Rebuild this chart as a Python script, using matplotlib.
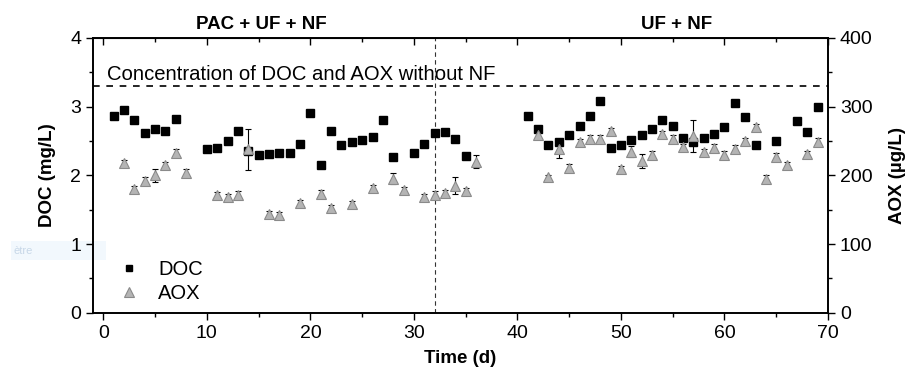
import matplotlib
matplotlib.use("Agg")
import matplotlib.pyplot as plt
from matplotlib.patches import Rectangle
from matplotlib.lines import Line2D
from matplotlib.ticker import MultipleLocator

plt.rcParams['font.family'] = ['Liberation Sans', 'DejaVu Sans']

# DOC (mg/L)
doc_days = [1, 2, 3, 4, 5, 6, 7, 10, 11, 12, 13, 14, 15, 16, 17, 18, 19, 20, 21, 22, 23,
            24, 25, 26, 27, 28, 30, 31, 32, 33, 34, 35,
            41, 42, 43, 44, 45, 46, 47, 48, 49, 50, 51, 52, 53, 54, 55, 56, 57, 58, 59,
            60, 61, 62, 63, 65, 67, 68, 69]
doc_vals = [2.87, 2.95, 2.81, 2.61, 2.68, 2.64, 2.82, 2.38, 2.40, 2.50, 2.65, 2.36, 2.30, 2.31,
            2.32, 2.33, 2.46, 2.91, 2.15, 2.65, 2.44, 2.48, 2.51, 2.56, 2.81, 2.26, 2.33, 2.46,
            2.62, 2.63, 2.53, 2.28,
            2.87, 2.67, 2.44, 2.48, 2.59, 2.72, 2.86, 3.08, 2.40, 2.44, 2.52, 2.58, 2.68, 2.81,
            2.72, 2.54, 2.48, 2.55, 2.60, 2.71, 3.05, 2.85, 2.44, 2.50, 2.79, 2.63, 3.00]

# AOX (ug/L)
aox_days = [2, 3, 4, 5, 6, 7, 8, 11, 12, 13, 14, 16, 17, 19, 21, 22, 24, 26, 28, 29, 31, 32,
            33, 34, 35, 36,
            42, 43, 44, 45, 46, 47, 48, 49, 50, 51, 52, 53, 54, 55, 56, 57, 58, 59, 60, 61,
            62, 63, 64, 65, 66, 68, 69]
aox_vals = [218, 180, 192, 200, 215, 233, 204, 171, 168, 172, 238, 143, 142, 159, 173, 152,
            158, 181, 195, 178, 168, 172, 174, 185, 177, 220,
            259, 197, 238, 211, 248, 253, 253, 264, 209, 234, 221, 230, 260, 253, 241, 257,
            234, 240, 230, 239, 250, 270, 195, 227, 215, 231, 249]
aox_err = [5, 5, 5, 9, 5, 5, 5, 5, 5, 5, 30, 5, 5, 5, 5, 5, 5, 5, 8, 5, 5, 5, 5, 12, 5, 9,
           6, 4, 13, 5, 5, 5, 5, 5, 4, 8, 10, 5, 5, 5, 5, 23, 5, 5, 5, 5, 5, 5, 5, 5, 5, 5, 5]

FS = 14

fig = plt.figure(figsize=(9.09, 3.72), dpi=100, facecolor='white')
ax = fig.add_axes([0.1023, 0.1594, 0.8086, 0.7386])
ax.patch.set_visible(False)
ax2 = ax.twinx()

# faint screenshot artifact (behind everything)
fig.patches.append(Rectangle((11 / 909, 1 - 260 / 372), 95 / 909, 19 / 372,
                             transform=fig.transFigure, facecolor='#f2f8fd',
                             edgecolor='none', zorder=-5))
fig.text(13 / 909, 1 - 251 / 372, 'ètre', fontsize=8, color='#c8d8e8', va='center',
         zorder=-4)

ax.set_xlim(-1, 70)
ax.set_ylim(0, 4)
ax2.set_ylim(0, 400)

ax.plot(doc_days, doc_vals, linestyle='none', marker='s', markersize=5.3,
        color='black', zorder=3)
ax2.errorbar(aox_days, aox_vals, yerr=aox_err, fmt='^', markersize=7,
             markerfacecolor='#b4b4b4', markeredgecolor='#8a8a8a', markeredgewidth=0.8,
             ecolor='black', elinewidth=0.8, capsize=2.5, capthick=0.8, zorder=4)

ax.axhline(3.3, color='black', linestyle=(0, (4, 4)), linewidth=1.2)
ax.axvline(32, color='#333333', linestyle=(0, (4, 3)), linewidth=0.8)
ax.text(0.4, 3.33, 'Concentration of DOC and AOX without NF', fontsize=14.6,
        va='bottom', ha='left')

# Ticks
ax.xaxis.set_major_locator(MultipleLocator(10))
ax.xaxis.set_minor_locator(MultipleLocator(5))
ax.yaxis.set_major_locator(MultipleLocator(1))
ax.yaxis.set_minor_locator(MultipleLocator(0.5))
ax2.yaxis.set_major_locator(MultipleLocator(100))
ax2.yaxis.set_minor_locator(MultipleLocator(50))
ax.tick_params(axis='x', which='both', direction='out', bottom=True, top=False, labelsize=FS)
ax.tick_params(axis='x', which='major', length=5, width=1)
ax.tick_params(axis='x', which='minor', length=3, width=1)
ax.tick_params(axis='y', which='major', direction='out', length=5, width=1, labelsize=FS)
ax.tick_params(axis='y', which='minor', direction='out', length=3, width=1)
ax2.tick_params(axis='y', which='major', direction='out', length=5, width=1, labelsize=FS)
ax2.tick_params(axis='y', which='minor', direction='out', length=3, width=1)
secx = ax.secondary_xaxis('top')
secx.xaxis.set_major_locator(MultipleLocator(10))
secx.xaxis.set_minor_locator(MultipleLocator(5))
secx.tick_params(axis='x', which='major', direction='in', length=5, width=1, labeltop=False)
secx.tick_params(axis='x', which='minor', direction='in', length=3, width=1)
for a in (ax, ax2):
    for s in a.spines.values():
        s.set_linewidth(1.2)

ax.set_xlabel('Time (d)', fontsize=13.5, fontweight='bold', labelpad=6)
ax.set_ylabel('DOC (mg/L)', fontsize=13.5, fontweight='bold', labelpad=10)
ax2.set_ylabel('AOX (µg/L)', fontsize=13.5, fontweight='bold', labelpad=12)

# Phase titles
ax.text(15.3, 4.07, 'PAC + UF + NF', fontsize=13.5, fontweight='bold', ha='center',
        va='bottom')
ax.text(55.4, 4.07, 'UF + NF', fontsize=13.5, fontweight='bold', ha='center',
        va='bottom')

# Legend
handles = [Line2D([], [], linestyle='none', marker='s', markersize=5, color='black'),
           Line2D([], [], linestyle='none', marker='^', markersize=6.5,
                  markerfacecolor='#b4b4b4', markeredgecolor='#8a8a8a', markeredgewidth=0.8)]
leg = ax2.legend(handles, ['DOC', 'AOX'], loc='lower left',
                 bbox_to_anchor=(114 / 909, 1 - 303 / 372), bbox_transform=fig.transFigure,
                 frameon=False, fontsize=14.5, handletextpad=0.7, labelspacing=0.25,
                 borderpad=0, borderaxespad=0, handlelength=1.5)

fig.savefig('out.png', dpi=100, facecolor='white')
